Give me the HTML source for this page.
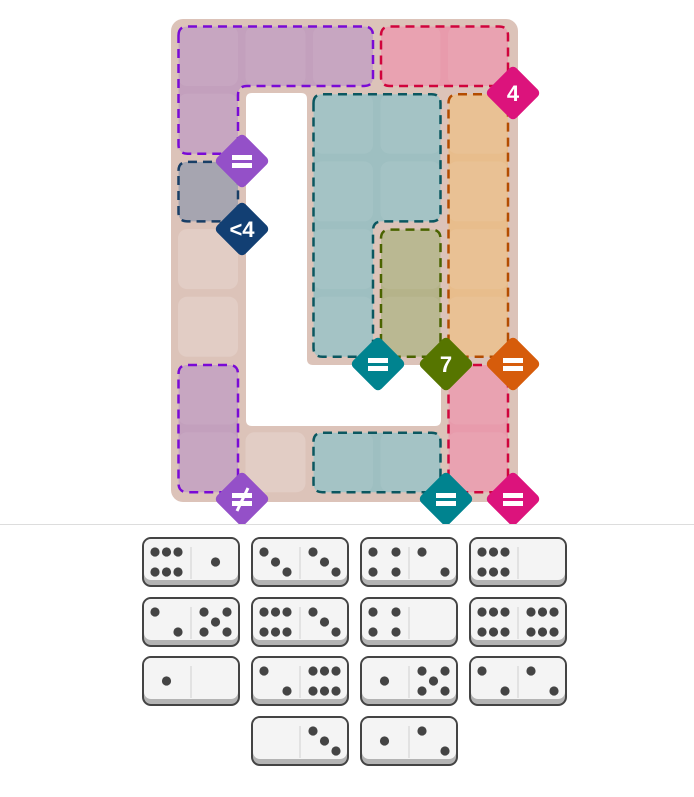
<!DOCTYPE html>
<html><head><meta charset="utf-8">
<style>
html,body{margin:0;padding:0;background:#fff;width:694px;height:797px;overflow:hidden;}
svg{display:block;}
text{font-family:"Liberation Sans","DejaVu Sans",sans-serif;font-weight:bold;fill:#fff;}
</style></head>
<body>
<svg id="s" width="694" height="797" viewBox="0 0 694 797" xmlns="http://www.w3.org/2000/svg">
<defs><clipPath id="top"><rect x="0" y="0" width="694" height="524"/></clipPath></defs>
<g id="board" clip-path="url(#top)">
<rect x="171" y="19" width="347" height="483" rx="12" fill="#dcc3b9"/>
<path d="M252,93 H301 Q307,93 307,99 V359 Q307,365 313,365 H436 Q441,365 441,371 V420 Q441,426 435,426 H252 Q246,426 246,420 V99 Q246,93 252,93 Z" fill="#fff"/>
</g>
<line x1="0" y1="524.5" x2="694" y2="524.5" stroke="#dddddd" stroke-width="1"/>
<g id="dom"></g>
</svg>
<script>
var NS="http://www.w3.org/2000/svg";
var board=document.getElementById('board'),dom=document.getElementById('dom');
function el(p,tag,a,txt){var e=document.createElementNS(NS,tag);for(var k in a)e.setAttribute(k,a[k]);if(txt!==undefined)e.textContent=txt;p.appendChild(e);return e;}
function X(c){return 178+67.5*c;} function Y(r){return 26+67.7*r;}
var cells=[];
for(var r=0;r<7;r++){cells.push([0,r]);cells.push([4,r]);}
for(var c=1;c<4;c++){cells.push([c,0]);cells.push([c,6]);}
for(var c=2;c<4;c++)for(var r=1;r<5;r++)cells.push([c,r]);
function L(c){return X(c)+0.5;} function R(c){return X(c)+60;} function T(r){return Y(r)+0.5;} function B(r){return Y(r)+60;}
function rect(c0,r0,c1,r1){return [[L(c0),T(r0)],[R(c1),T(r0)],[R(c1),B(r1)],[L(c0),B(r1)]];}
function rpath(pts,rad){
 var n=pts.length,d='';
 for(var i=0;i<n;i++){
  var p=pts[i],a=pts[(i-1+n)%n],b=pts[(i+1)%n];
  function toward(q){var dx=q[0]-p[0],dy=q[1]-p[1],l=Math.sqrt(dx*dx+dy*dy),k=Math.min(rad,l/2)/l;return [p[0]+dx*k,p[1]+dy*k];}
  var s=toward(a),e=toward(b);
  d+=(i?'L':'M')+s[0]+','+s[1]+' Q'+p[0]+','+p[1]+' '+e[0]+','+e[1]+' ';
 }
 return d+'Z';
}
var regs=[
 {pts:[[L(0),T(0)],[R(2),T(0)],[R(2),B(0)],[R(0),B(0)],[R(0),B(1)],[L(0),B(1)]],fill:"#c3a0bd",st:"#7a0ad6",cells:[[0,0],[1,0],[2,0],[0,1]]},
 {pts:rect(3,0,4,0),fill:"#e89bac",st:"#d0043c",cells:[[3,0],[4,0]]},
 {pts:rect(0,2,0,2),fill:"#a09fab",st:"#183e66",cells:[[0,2]]},
 {pts:[[L(2),T(1)],[R(3),T(1)],[R(3),B(2)],[R(2),B(2)],[R(2),B(4)],[L(2),B(4)]],fill:"#9ebfc1",st:"#0b5760",cells:[[2,1],[3,1],[2,2],[3,2],[2,3],[2,4]]},
 {pts:rect(3,3,3,4),fill:"#b5b38a",st:"#4a6300",cells:[[3,3],[3,4]]},
 {pts:rect(4,1,4,4),fill:"#e8bd8c",st:"#b34c00",cells:[[4,1],[4,2],[4,3],[4,4]]},
 {pts:rect(0,5,0,6),fill:"#c3a0bd",st:"#7a0ad6",cells:[[0,5],[0,6]]},
 {pts:rect(2,6,3,6),fill:"#9ebfc1",st:"#0b5760",cells:[[2,6],[3,6]]},
 {pts:rect(4,5,4,6),fill:"#e89bac",st:"#d0043c",cells:[[4,5],[4,6]]}
];
var inReg={};regs.forEach(function(g){g.cells.forEach(function(c){inReg[c[0]+','+c[1]]=1;});});
cells.forEach(function(c){if(!inReg[c[0]+','+c[1]])el(board,'rect',{x:X(c[0]),y:Y(c[1]),width:60,height:60,rx:9,fill:"#e2cdc5"});});
regs.forEach(function(g){
 var d=rpath(g.pts,9);
 el(board,'path',{d:d,fill:g.fill,stroke:'none'});
 g.cells.forEach(function(c){el(board,'rect',{x:X(c[0]),y:Y(c[1]),width:60,height:60,rx:9,fill:'#fff','fill-opacity':0.07});});
 el(board,'path',{d:d,fill:'none',stroke:g.st,'stroke-width':2.5,'stroke-dasharray':'9 6','stroke-linejoin':'round'});
});
var dia=[[242,161,"#9450c8","="],[513,93,"#dc137c","4"],[242,229,"#123f73","<4"],[378,364,"#00838f","="],[446,364,"#567500","7"],[513,364,"#d65c0b","="],[242,499,"#9450c8","≠"],[446,499,"#00838f","="],[513,499,"#dc137c","="]];
dia.forEach(function(d){
 var x=d[0],y=d[1];
 el(board,'rect',{x:x-20,y:y-20,width:40,height:40,rx:5,fill:d[2],transform:'rotate(45 '+x+' '+y+')'});
 if(d[3]=="="||d[3]=="≠"){
  el(board,'rect',{x:x-10,y:y-6,width:20,height:5,fill:'#fff'});
  el(board,'rect',{x:x-10,y:y+2,width:20,height:5,fill:'#fff'});
  if(d[3]=="≠")el(board,'line',{x1:x+6,y1:y-11,x2:x-5,y2:y+12,stroke:'#fff','stroke-width':3});
  el(board,'text',{x:x,y:y,'font-size':1,'fill-opacity':0},d[3]);
 } else {
  el(board,'text',{x:x,y:y+8,'text-anchor':'middle','font-size':22},d[3]);
 }
});
var P={0:[],1:[[1,1]],2:[[0,0],[2,2]],3:[[0,0],[1,1],[2,2]],4:[[0,0],[2,0],[0,2],[2,2]],5:[[0,0],[2,0],[1,1],[0,2],[2,2]],6:[[0,0],[1,0],[2,0],[0,2],[1,2],[2,2]]};
var doms=[[142,537,6,1],[251,537,3,3],[360,537,4,2],[469,537,6,0],
[142,597,2,5],[251,597,6,3],[360,597,4,0],[469,597,6,6],
[142,656,1,0],[251,656,2,6],[360,656,1,5],[469,656,2,2],
[251,716,0,3],[360,716,1,2]];
doms.forEach(function(d){
 var x=d[0],y=d[1];
 el(dom,'rect',{x:x+1,y:y+1,width:96,height:48,rx:8,fill:'#b4b4b4',stroke:'#444','stroke-width':2});
 el(dom,'rect',{x:x+2,y:y+2,width:94,height:41,rx:7,fill:'#f4f4f4'});
 el(dom,'line',{x1:x+49,y1:y+10,x2:x+49,y2:y+42,stroke:'#ddd','stroke-width':1.5});
 [d[2],d[3]].forEach(function(v,h){
  var hx=x+h*49;
  P[v].forEach(function(p){el(dom,'circle',{cx:hx+13+p[0]*11.5,cy:y+15+p[1]*10,r:4.6,fill:'#444'});});
 });
});
</script>
</body></html>
